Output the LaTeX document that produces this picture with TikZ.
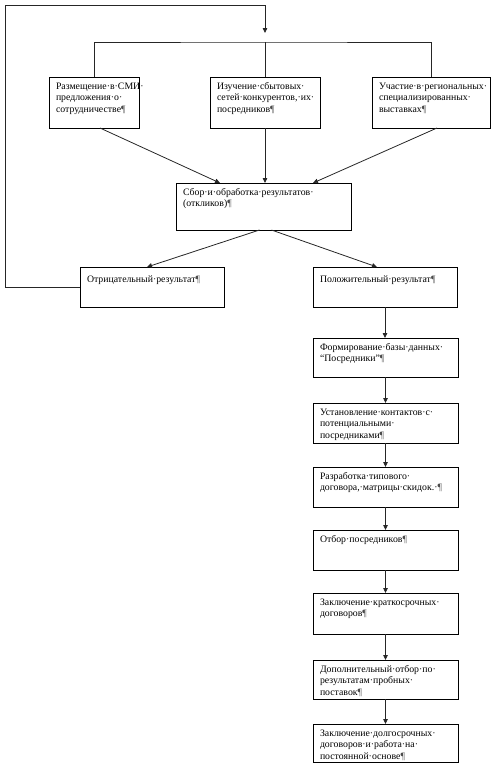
\documentclass[tikz,border=0pt]{standalone}
\usepackage{fontspec}
\setmainfont{Liberation Serif}
\usetikzlibrary{arrows.meta,calc}
\newcommand\pil{\textcolor{black!70}{¶}}
\newcommand\fbx[6]{%
  \node[box, anchor=north west] (#1) at (#2,#3)
    {\parbox[c][\dimexpr#5pt-#3pt\relax][t]{\dimexpr#4pt-#2pt\relax}{%
      \raggedright\leftskip=7pt\rule{0pt}{12pt}#6\par}};}
\begin{document}
\begin{tikzpicture}[x=1pt,y=-1pt,
  box/.style={draw=black, line width=0.9pt, inner sep=0pt, outer sep=0pt,
    font=\fontsize{9.8}{11.7}\selectfont},
  conn/.style={draw=black!85, line width=0.8pt},
  arr/.style={conn, -{Triangle[length=5pt,width=4.5pt]}}]
\useasboundingbox (0,0) rectangle (499,772);
\fbx{b1}{49}{77}{139}{128}{Размещение·в·СМИ·\\предложения·о·\\сотрудничестве\pil}
\fbx{b2}{210}{77}{320}{128}{Изучение·сбытовых·\\сетей·конкурентов,·их·\\посредников\pil}
\fbx{b3}{372}{77}{490}{128}{Участие·в·региональных·\\специализированных·\\выставках\pil}
\fbx{coll}{176}{183}{351}{230}{Сбор·и·обработка·результатов·\\(откликов)\pil}
\fbx{neg}{80}{267}{224}{307}{\rule{0pt}{15pt}Отрицательный·результат\pil}
\fbx{pos}{313}{267}{457}{307}{\rule{0pt}{15pt}Положительный·результат\pil}
\fbx{f1}{313}{338}{458}{377}{Формирование·базы·данных·\\“Посредники”\pil}
\fbx{f2}{313}{403}{458}{443}{Установление·контактов·с·\\потенциальными·\\посредниками\pil}
\fbx{f3}{313}{467}{458}{507}{Разработка·типового·\\договора,·матрицы·скидок.·\pil}
\fbx{f4}{313}{530}{458}{570}{Отбор·посредников\pil}
\fbx{f5}{313}{593}{458}{634}{Заключение·краткосрочных·\\договоров\pil}
\fbx{f6}{313}{660}{458}{699}{Дополнительный·отбор·по·\\результатам·пробных·\\поставок\pil}
\fbx{f7}{313}{724}{458}{762}{Заключение·долгосрочных·\\договоров·и·работа·на·\\постоянной·основе\pil}
% feedback loop
\coordinate (loopL) at (5,5);
\coordinate (topin) at (265,33);
\coordinate (bus) at (265,42);
\draw[arr] (neg.west) -| (loopL) -| (topin);
\draw[conn] (b1.north) |- (bus) -| (b3.north);
\draw[conn] (bus) -- (bus -| b2.north) -- (b2.north);
% into collect
\draw[arr] ($(b1.south)+(6,0)$) -- ($(coll.north west)+(44,0)$);
\draw[arr] (b2.south) -- (b2.south |- coll.north);
\draw[arr] ($(b3.south)+(6,0)$) -- ($(coll.north east)+(-38,0)$);
% out of collect
\draw[arr] ($(coll.south)+(-4,0)$) -- ($(neg.north)+(-5,0)$);
\draw[arr] ($(coll.south)+(8,0)$) -- ($(pos.north)+(-8,0)$);
% chain
\draw[arr] (pos.south) -- (pos.south |- f1.north);
\draw[arr] (f1.south) -- (f2.north);
\draw[arr] (f2.south) -- (f3.north);
\draw[arr] (f3.south) -- (f4.north);
\draw[arr] (f4.south) -- (f5.north);
\draw[arr] (f5.south) -- (f6.north);
\draw[arr] (f6.south) -- (f7.north);
\end{tikzpicture}
\end{document}
